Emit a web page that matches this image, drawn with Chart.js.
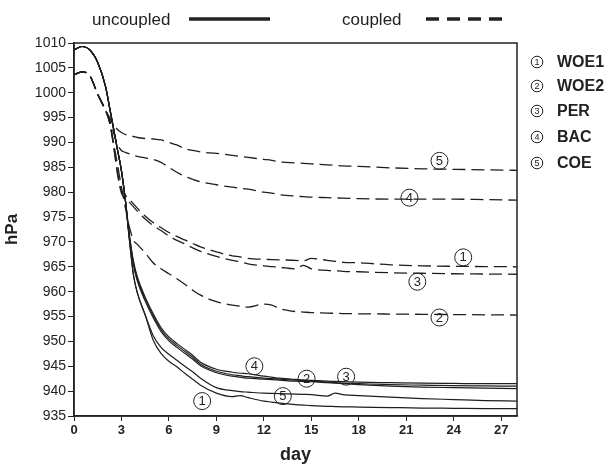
<!DOCTYPE html>
<html>
<head>
<meta charset="utf-8">
<title>hPa vs day</title>
<script src="https://cdn.jsdelivr.net/npm/chart.js"></script>
<style>
  html, body { margin: 0; padding: 0; background: #fff; }
  #wrap { width: 614px; height: 467px; position: relative; }
</style>
</head>
<body>
<div id="wrap"><canvas id="chart" width="614" height="467"></canvas></div>
<script>
// x positions (days) shared by every series
const days = [0, 0.5, 1, 1.5, 2, 2.25, 2.5, 2.75, 3, 3.25, 3.5, 3.75, 4, 4.5, 5, 5.5, 6, 6.5, 7, 7.5,
              8, 9, 10, 10.5, 11, 12, 12.5, 13, 14, 14.5, 15, 16, 16.5, 17, 18, 20, 22, 24, 26, 28];

// uncoupled runs (solid)
const uncWOE1 = [1008.6, 1009.3, 1008.6, 1006.1, 1001.2, 997, 992.8, 988.5, 984.3, 978.3, 970.5, 963.5, 959.8, 955.3, 950.3, 947.6, 946.0, 944.9, 943.6, 942.4,
                 941.2, 939.6, 938.9, 939.1, 938.7, 938.0, 937.8, 937.6, 937.3, 937.2, 937.1, 936.95, 936.9, 936.85, 936.8, 936.7, 936.6, 936.55, 936.5, 936.5];
const uncWOE2 = [1008.6, 1009.3, 1008.6, 1006.1, 1001.2, 997, 992.8, 988.5, 984.3, 978.3, 971.2, 965.9, 962.6, 958.5, 955.2, 952.4, 950.5, 949.2, 948.0, 946.8,
                 945.4, 944.0, 943.3, 943.1, 942.9, 942.6, 942.5, 942.4, 942.2, 942.1, 942.0, 941.8, 941.7, 941.6, 941.5, 941.3, 941.2, 941.1, 941.05, 941.0];
const uncPER  = [1008.6, 1009.3, 1008.6, 1006.1, 1001.2, 997, 992.8, 988.5, 984.3, 978.3, 970.9, 965.5, 962.2, 958.1, 954.8, 952.0, 950.1, 948.8, 947.6, 946.4,
                 945.1, 943.7, 943.0, 942.8, 942.6, 942.4, 942.3, 942.2, 942.0, 941.95, 941.9, 941.7, 941.6, 941.5, 941.3, 941.0, 940.8, 940.7, 940.6, 940.5];
const uncBAC  = [1008.6, 1009.3, 1008.6, 1006.1, 1001.2, 997, 992.8, 988.5, 984.3, 978.3, 971.5, 966.3, 963.0, 958.9, 955.6, 952.8, 950.9, 949.6, 948.4, 947.2,
                 945.8, 944.4, 943.8, 943.6, 943.5, 943.0, 942.8, 942.6, 942.35, 942.25, 942.15, 942.0, 941.95, 941.9, 941.8, 941.7, 941.6, 941.55, 941.5, 941.5];
const uncCOE  = [1008.6, 1009.3, 1008.6, 1006.1, 1001.2, 997, 992.8, 988.5, 984.3, 978.3, 970.5, 963.5, 959.8, 955.3, 951.2, 948.8, 947.4, 946.2, 945.0, 943.9,
                 942.6, 940.7, 940.1, 939.9, 939.8, 939.6, 939.55, 939.5, 939.4, 939.35, 939.3, 939.0, 939.6, 939.3, 939.1, 938.8, 938.5, 938.3, 938.1, 938.0];

// coupled runs (dashed)
const cplWOE1 = [1003.6, 1004.2, 1003.4, 999.7, 996.4, 994, 989.5, 984, 980.3, 979.4, 978.6, 977.7, 976.8, 975.2, 973.9, 972.9, 971.9, 971.1, 970.4, 969.7,
                 969.0, 968.0, 967.2, 967.0, 966.7, 966.5, 966.45, 966.4, 966.3, 966.2, 966.7, 966.3, 966.1, 965.9, 965.8, 965.4, 965.2, 965.1, 965.05, 965.0];
const cplWOE2 = [1003.6, 1004.2, 1003.4, 999.7, 996.4, 994.2, 990, 985.5, 981, 976.8, 973, 970.4, 969.5, 967.8, 965.8, 964.6, 963.6, 962.6, 961.5, 960.3,
                 959.3, 958.0, 957.3, 957.1, 956.9, 957.5, 957.3, 956.6, 956.0, 955.9, 955.8, 955.7, 955.65, 955.6, 955.55, 955.5, 955.45, 955.4, 955.35, 955.3];
const cplPER  = [1003.6, 1004.2, 1003.4, 999.7, 996.4, 994, 989.3, 983.6, 979.8, 978.9, 978.0, 977.1, 976.2, 974.6, 973.3, 972.3, 971.2, 970.3, 969.6, 968.8,
                 968.1, 967.1, 966.3, 966.0, 965.6, 965.2, 965.05, 964.9, 964.6, 965.3, 964.6, 964.3, 964.2, 964.1, 964.0, 963.8, 963.7, 963.6, 963.55, 963.5];
const cplBAC  = [1003.6, 1004.2, 1003.4, 999.7, 996.4, 994.6, 992, 989.6, 988.4, 988.0, 987.7, 987.4, 987.2, 986.9, 986.6, 986.0, 985.0, 984.0, 983.2, 982.6,
                 982.1, 981.5, 981.0, 980.8, 980.6, 980.0, 979.8, 979.5, 979.2, 979.1, 979.0, 978.9, 978.85, 978.8, 978.7, 978.6, 978.6, 978.6, 978.5, 978.4];
const cplCOE  = [1003.6, 1004.2, 1003.4, 999.7, 996.4, 995, 993.7, 992.6, 992.0, 991.6, 991.3, 991.2, 991.0, 990.8, 990.7, 990.5, 990.0, 989.5, 988.8, 988.4,
                 988.1, 987.8, 987.4, 987.2, 987.0, 986.6, 986.4, 986.1, 985.9, 985.8, 985.7, 985.5, 985.4, 985.3, 985.2, 984.9, 984.7, 984.6, 984.5, 984.4];

// circled run numbers placed on the curves
const markDay  = [23.1, 21.2, 24.6, 21.7, 23.1, 11.4, 14.7, 17.2, 13.2, 8.1];
const markHpa  = [986.3, 978.9, 966.9, 962.0, 954.8, 945.0, 942.5, 942.9, 939.0, 938.0];
const markText = ['5', '4', '1', '3', '2', '4', '2', '3', '5', '1'];

const runNames = ['WOE1', 'WOE2', 'PER', 'BAC', 'COE'];
const xTicks = [0, 3, 6, 9, 12, 15, 18, 21, 24, 27];
const yTicks = [935, 940, 945, 950, 955, 960, 965, 970, 975, 980, 985, 990, 995, 1000, 1005, 1010];

const ink = '#1e1e1e';
const FONT = '"Liberation Sans", Arial, sans-serif';

function series(label, vals, dashed) {
  return {
    label: label,
    data: days.map((d, i) => ({ x: d, y: vals[i] })),
    borderColor: ink,
    borderWidth: dashed ? 1.3 : 1.2,
    borderDash: dashed ? [13, 6] : [],
    pointRadius: 0,
    fill: false,
    cubicInterpolationMode: 'monotone'
  };
}

const framePlugin = {
  id: 'frame',
  afterDraw(chart) {
    const c = chart.ctx, a = chart.chartArea;
    c.save();
    c.strokeStyle = '#222';
    c.lineWidth = 1.5;
    c.strokeRect(a.left, a.top, a.right - a.left, a.bottom - a.top);

    // circled numbers on curves
    c.lineWidth = 1;
    c.fillStyle = ink;
    c.textAlign = 'center';
    c.textBaseline = 'middle';
    c.font = '13px ' + FONT;
    for (let i = 0; i < markText.length; i++) {
      const px = chart.scales.x.getPixelForValue(markDay[i]);
      const py = chart.scales.y.getPixelForValue(markHpa[i]);
      c.beginPath();
      c.arc(px, py, 8.5, 0, Math.PI * 2);
      c.stroke();
      c.fillText(markText[i], px, py + 0.5);
    }

    // top legend
    c.textAlign = 'left';
    c.font = '17px ' + FONT;
    c.fillStyle = '#222';
    c.fillText('uncoupled', 92, 20);
    c.fillText('coupled', 342, 20);
    c.lineWidth = 3.5;
    c.beginPath();
    c.moveTo(189, 19); c.lineTo(270, 19);
    c.stroke();
    c.setLineDash([13, 8]);
    c.beginPath();
    c.moveTo(426, 19); c.lineTo(503, 19);
    c.stroke();
    c.setLineDash([]);

    // right legend
    const rows = [62, 86, 111, 137, 163];
    for (let i = 0; i < runNames.length; i++) {
      c.lineWidth = 1;
      c.beginPath();
      c.arc(537, rows[i], 5.8, 0, Math.PI * 2);
      c.stroke();
      c.font = '9px ' + FONT;
      c.textAlign = 'center';
      c.fillText(String(i + 1), 537, rows[i] + 0.5);
      c.font = 'bold 16px ' + FONT;
      c.textAlign = 'left';
      c.fillText(runNames[i], 557, rows[i] + 1);
    }
    c.restore();
  }
};

new Chart(document.getElementById('chart'), {
  type: 'line',
  data: {
    datasets: [
      series('WOE1 uncoupled', uncWOE1, false),
      series('WOE2 uncoupled', uncWOE2, false),
      series('PER uncoupled', uncPER, false),
      series('BAC uncoupled', uncBAC, false),
      series('COE uncoupled', uncCOE, false),
      series('WOE1 coupled', cplWOE1, true),
      series('WOE2 coupled', cplWOE2, true),
      series('PER coupled', cplPER, true),
      series('BAC coupled', cplBAC, true),
      series('COE coupled', cplCOE, true)
    ]
  },
  options: {
    responsive: false,
    animation: false,
    layout: { padding: { left: 0, right: 97, top: 43, bottom: 0 } },
    plugins: { legend: { display: false }, tooltip: { enabled: false } },
    scales: {
      x: {
        type: 'linear',
        min: 0, max: 28,
        afterBuildTicks: s => { s.ticks = xTicks.map(v => ({ value: v })); },
        afterFit: s => { s.height = 51; },
        grid: { drawOnChartArea: false, drawTicks: true, tickLength: 5, color: '#222' },
        border: { display: true, color: '#222', width: 1.5 },
        ticks: { color: '#222', padding: 2, maxRotation: 0, autoSkip: false,
                 callback: v => String(v),
                 font: { family: FONT, size: 13, weight: 'bold' } },
        title: { display: true, text: 'day', color: '#222', padding: { top: 0, bottom: 1 },
                 font: { family: FONT, size: 18, weight: 'bold' } }
      },
      y: {
        min: 935, max: 1010,
        afterBuildTicks: s => { s.ticks = yTicks.map(v => ({ value: v })); },
        afterFit: s => { s.width = 74; },
        grid: { drawOnChartArea: false, drawTicks: true, tickLength: 6, color: '#222' },
        border: { display: true, color: '#222', width: 1.5 },
        ticks: { color: '#222', padding: 2, autoSkip: false,
                 callback: v => String(v),
                 font: { family: FONT, size: 14 } },
        title: { display: true, text: 'hPa', color: '#222', padding: { top: 2, bottom: 0 },
                 font: { family: FONT, size: 17, weight: 'bold' } }
      }
    }
  },
  plugins: [framePlugin]
});
</script>
</body>
</html>
